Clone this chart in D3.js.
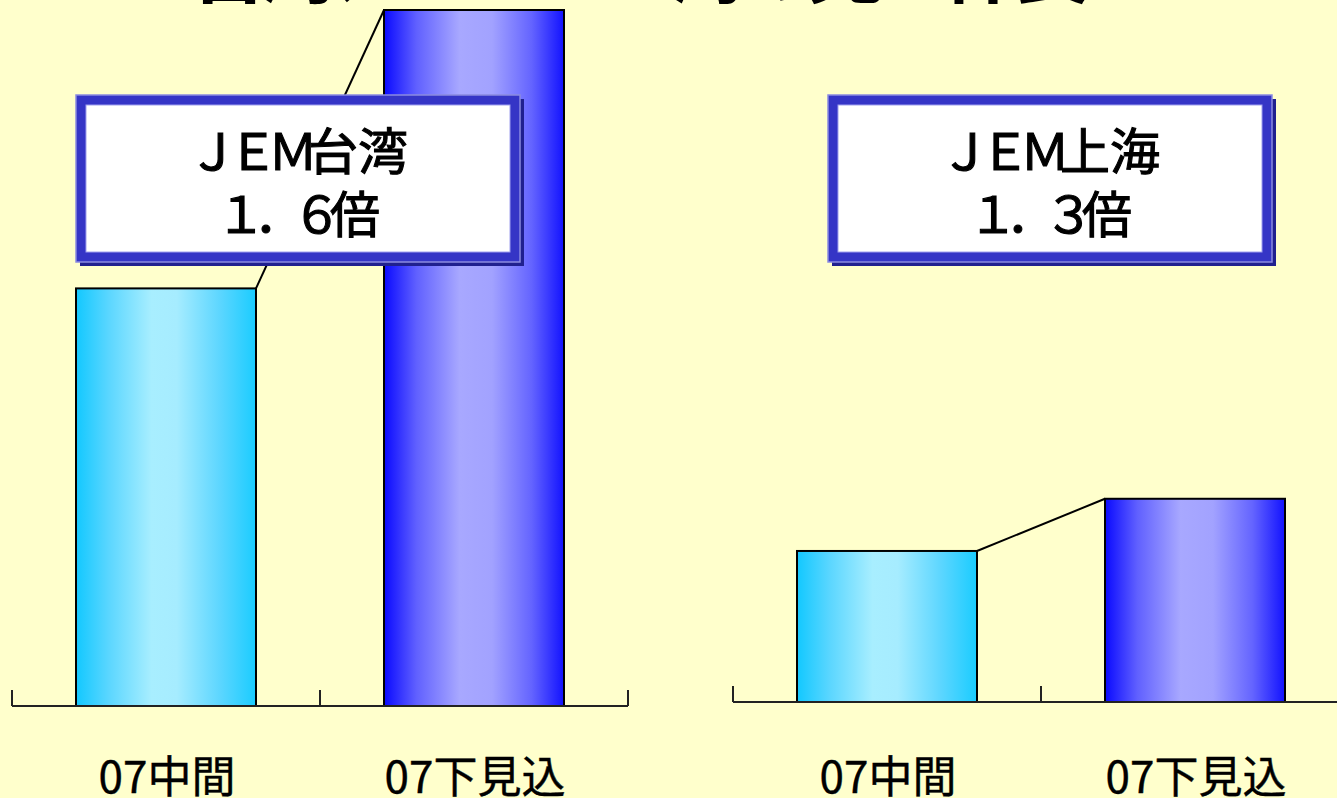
<!DOCTYPE html>
<html>
<head>
<meta charset="utf-8">
<script src="https://cdn.jsdelivr.net/npm/d3@7"></script>
<style>
html,body{margin:0;padding:0;background:#FFFFCC;overflow:hidden;}
svg{display:block;}
</style>
</head>
<body>
<svg id="chart" width="1337" height="798"></svg>
<script>
// ---- data ----
const titleText = "台湾、ＪＥＭ上海の売上伸長";
const categories = ["07中間", "07下見込"];
const taiwanValues = [60, 100];
const shanghaiValues = [21.7, 29.2];
const panelNames = ["ＪＥＭ台湾", "ＪＥＭ上海"];
const ratioNumbers = ["１．６", "１．３"];
const ratioUnit = "倍";

// ---- layout ----
const W = 1337, H = 798;
const FONT = "'Noto Sans CJK JP','Noto Sans',sans-serif";
const svg = d3.select("#chart");
svg.append("rect").attr("width", W).attr("height", H).attr("fill", "#FFFFCC");

const defs = svg.append("defs");
function grad(id, stops) {
  const g = defs.append("linearGradient").attr("id", id)
    .attr("x1", "0%").attr("x2", "100%").attr("y1", "0%").attr("y2", "0%");
  stops.forEach(s => g.append("stop").attr("offset", s[0]).attr("stop-color", s[1]));
}
grad("gCyan", [["0%", "#12c8ff"], ["18%", "#5ad6ff"], ["42%", "#a8eeff"], ["56%", "#a6ecff"], ["80%", "#5cd6ff"], ["100%", "#1accff"]]);
grad("gBlue", [["0%", "#0a0aff"], ["18%", "#6060ff"], ["42%", "#a8a8ff"], ["60%", "#a2a2ff"], ["82%", "#6464ff"], ["100%", "#1212ff"]]);
const fills = ["url(#gCyan)", "url(#gBlue)"];

// title (mostly cropped off the top of the picture)
svg.append("text")
  .attr("x", 190).attr("y", -3)
  .attr("textLength", 900).attr("lengthAdjust", "spacing")
  .attr("font-family", FONT).attr("font-weight", "bold")
  .attr("font-size", 78).attr("fill", "#000")
  .text(titleText);

const plotH = 696;
const y = d3.scaleLinear().domain([0, 100]).range([plotH, 0]);

const panels = [
  { values: taiwanValues, x0: 12, x1: 628, base: 706, box: [76, 95], name: panelNames[0], ratio: ratioNumbers[0] },
  { values: shanghaiValues, x0: 733, x1: 1349, base: 702, box: [828, 95], name: panelNames[1], ratio: ratioNumbers[1] }
];
const barFrac = 180 / 308;

panels.forEach(p => {
  const g = svg.append("g").attr("transform", `translate(0,${p.base - plotH})`);
  const x = d3.scaleBand().domain(categories).range([p.x0, p.x1]).padding(0);
  const bw = x.bandwidth() * barFrac;
  const off = (x.bandwidth() - bw) / 2;

  // connector line from bar1 top-right to bar2 top-left
  g.append("line")
    .attr("x1", x(categories[0]) + off + bw).attr("y1", y(p.values[0]))
    .attr("x2", x(categories[1]) + off).attr("y2", y(p.values[1]))
    .attr("stroke", "#000").attr("stroke-width", 2);

  // bars
  g.selectAll("rect.bar").data(p.values).enter().append("rect")
    .attr("class", "bar")
    .attr("x", (d, i) => x(categories[i]) + off)
    .attr("y", d => y(d))
    .attr("width", bw)
    .attr("height", d => plotH - y(d))
    .attr("fill", (d, i) => fills[i])
    .attr("stroke", "#000").attr("stroke-width", 2);

  // axis: baseline and upward ticks at band edges
  g.append("line")
    .attr("x1", p.x0).attr("x2", p.x1).attr("y1", plotH).attr("y2", plotH)
    .attr("stroke", "#222").attr("stroke-width", 2);
  const tickXs = categories.map(c => x(c)).concat([p.x1]);
  g.selectAll("line.tick").data(tickXs).enter().append("line")
    .attr("class", "tick")
    .attr("x1", d => d).attr("x2", d => d)
    .attr("y1", plotH).attr("y2", plotH - 16)
    .attr("stroke", "#222").attr("stroke-width", 2);

  // category labels
  svg.selectAll(null).data(categories).enter().append("text")
    .attr("x", c => x(c) + x.bandwidth() / 2 + 1)
    .attr("y", 793)
    .attr("text-anchor", "middle")
    .attr("font-family", FONT).attr("font-size", 44).attr("fill", "#000")
    .attr("stroke", "#000").attr("stroke-width", 0.4)
    .text(c => c);

  // annotation box
  const [bx, by] = p.box, bwid = 444, bh = 167;
  const bg = svg.append("g");
  bg.append("rect").attr("x", bx + 4).attr("y", by + 4).attr("width", bwid).attr("height", bh).attr("fill", "#20208f");
  bg.append("rect").attr("x", bx).attr("y", by).attr("width", bwid).attr("height", bh)
    .attr("fill", "#3535c6").attr("stroke", "#8a8ae0").attr("stroke-width", 1.5);
  bg.append("rect").attr("x", bx + 10).attr("y", by + 10).attr("width", bwid - 20).attr("height", bh - 20)
    .attr("fill", "#ffffff").attr("stroke", "#a0a0ee").attr("stroke-width", 1);
  const cx = bx + bwid / 2;
  const t1 = bg.append("text").attr("x", cx).attr("y", by + 75)
    .attr("text-anchor", "middle").attr("font-family", FONT).attr("font-size", 50)
    .attr("fill", "#000").attr("stroke", "#000").attr("stroke-width", 1.1);
  t1.append("tspan").attr("letter-spacing", -10).text(p.name.slice(0, 3));
  t1.append("tspan").text(p.name.slice(3));
  const t2 = bg.append("text").attr("x", cx).attr("y", by + 138)
    .attr("text-anchor", "middle").attr("font-family", FONT).attr("font-size", 50)
    .attr("fill", "#000").attr("stroke", "#000").attr("stroke-width", 1.1);
  t2.append("tspan").attr("letter-spacing", -12).text(p.ratio);
  t2.append("tspan").text(ratioUnit);
});
</script>
</body>
</html>
